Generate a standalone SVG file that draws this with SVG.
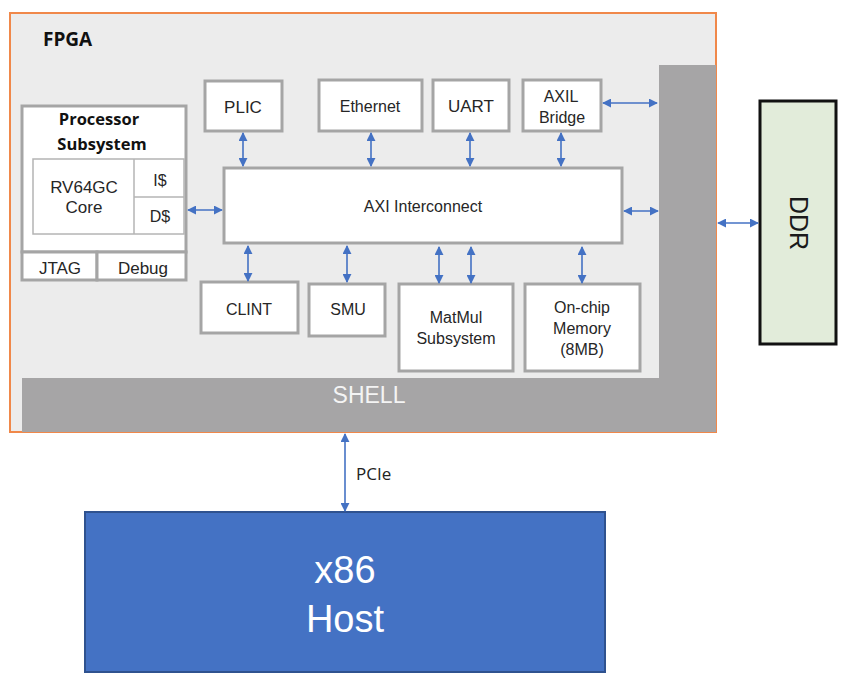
<svg xmlns="http://www.w3.org/2000/svg" width="844" height="684" viewBox="0 0 844 684">
<style>
.box{fill:#fff;stroke:#a5a5a5;stroke-width:3}
.thin{fill:none;stroke:#b4b4b4;stroke-width:1.5}
.t{font-family:"Liberation Sans",Arial,sans-serif;font-size:16px;fill:#262626;text-anchor:middle}
.tb{font-family:"Open Sans","Liberation Sans",sans-serif;font-weight:bold;fill:#111;text-anchor:middle}
.con line{stroke:#4472c4;stroke-width:1.6;marker-start:url(#ah);marker-end:url(#ah)}
</style>
<defs>
<marker id="ah" viewBox="0 0 10 10" refX="9" refY="5" markerWidth="9" markerHeight="9" markerUnits="userSpaceOnUse" orient="auto-start-reverse">
<path d="M0,0 L10,5 L0,10 z" fill="#4472c4"/>
</marker>
</defs>
<rect width="844" height="684" fill="#fff"/>
<g id="fpga">
<rect x="10" y="13" width="706" height="419" fill="#ececec" stroke="#f0884a" stroke-width="2"/>
<text x="43" y="46" class="tb" style="font-size:19px;text-anchor:start">FPGA</text>
</g>
<g id="shell">
<path d="M659,65 H716 V432 H22 V378 H659 Z" fill="#a6a5a6"/>
<text x="369" y="403" class="t" style="font-size:23px;fill:#f4f4f4">SHELL</text>
</g>
<g id="processor">
<rect x="22" y="106" width="164" height="146" class="box"/>
<text x="99" y="125" class="tb" style="font-size:16.5px">Processor</text>
<text x="102" y="150" class="tb" style="font-size:16.5px">Subsystem</text>
<rect x="33" y="159" width="151" height="75" class="thin"/>
<line x1="134" y1="159" x2="134" y2="234" class="thin"/>
<line x1="134" y1="197" x2="184" y2="197" class="thin"/>
<text x="84" y="193" class="t" style="font-size:17px">RV64GC</text>
<text x="84" y="213" class="t" style="font-size:17px">Core</text>
<text x="160" y="186" class="t">I$</text>
<text x="160" y="222" class="t">D$</text>
<rect x="22" y="252" width="75" height="28" class="box"/>
<rect x="97" y="252" width="89" height="28" class="box"/>
<text x="60" y="274" class="t" style="font-size:17px">JTAG</text>
<text x="143" y="274" class="t" style="font-size:17px">Debug</text>
</g>
<g id="plic"><rect x="205" y="81" width="77" height="50" class="box"/><text x="243" y="113" class="t" style="font-size:17px">PLIC</text></g>
<g id="ethernet"><rect x="319" y="80" width="103" height="51" class="box"/><text x="370" y="112" class="t">Ethernet</text></g>
<g id="uart"><rect x="433" y="80" width="76" height="51" class="box"/><text x="471" y="112" class="t" style="font-size:17px">UART</text></g>
<g id="axil"><rect x="523" y="80" width="78" height="51" class="box"/><text x="561" y="102" class="t">AXIL</text><text x="562" y="123" class="t">Bridge</text></g>
<g id="axi"><rect x="224" y="168" width="398" height="75" class="box"/><text x="423" y="212" class="t">AXI Interconnect</text></g>
<g id="clint"><rect x="201" y="282" width="97" height="51" class="box"/><text x="249" y="315" class="t">CLINT</text></g>
<g id="smu"><rect x="309" y="284" width="76" height="52" class="box"/><text x="348" y="315" class="t">SMU</text></g>
<g id="matmul"><rect x="399" y="284" width="114" height="87" class="box"/><text x="456" y="323" class="t">MatMul</text><text x="456" y="344" class="t">Subsystem</text></g>
<g id="onchip"><rect x="525" y="284" width="115" height="87" class="box"/><text x="582" y="313" class="t">On-chip</text><text x="582" y="334" class="t">Memory</text><text x="582" y="355" class="t">(8MB)</text></g>
<g id="ddr">
<rect x="760" y="101" width="76" height="243" fill="#e2ecda" stroke="#111" stroke-width="3"/>
<text transform="translate(798,223) rotate(90)" x="0" y="8.5" class="t" style="font-size:25px;fill:#1a1a1a">DDR</text>
</g>
<g id="host">
<rect x="85" y="512" width="520" height="160" fill="#4472c4" stroke="#2f528f" stroke-width="2"/>
<text x="345" y="583" class="t" style="font-size:38px;fill:#fff">x86</text>
<text x="345" y="632" class="t" style="font-size:38px;fill:#fff">Host</text>
</g>
<g id="connectors" class="con">
<line x1="243" y1="133" x2="243" y2="166"/>
<line x1="371" y1="133" x2="371" y2="166"/>
<line x1="470" y1="133" x2="470" y2="166"/>
<line x1="561" y1="133" x2="561" y2="166"/>
<line x1="603" y1="103" x2="657" y2="103"/>
<line x1="624" y1="211" x2="658" y2="211"/>
<line x1="188" y1="210" x2="222" y2="210"/>
<line x1="718" y1="223" x2="758" y2="223"/>
<line x1="248" y1="246" x2="248" y2="281"/>
<line x1="347" y1="246" x2="347" y2="282"/>
<line x1="439" y1="247" x2="439" y2="283"/>
<line x1="471" y1="247" x2="471" y2="283"/>
<line x1="582" y1="247" x2="582" y2="283"/>
<line x1="345" y1="434" x2="345" y2="511"/>
<text x="356" y="480" style="font-family:'Open Sans','Liberation Sans',sans-serif;font-size:17px;fill:#222">PCIe</text>
</g>
</svg>
